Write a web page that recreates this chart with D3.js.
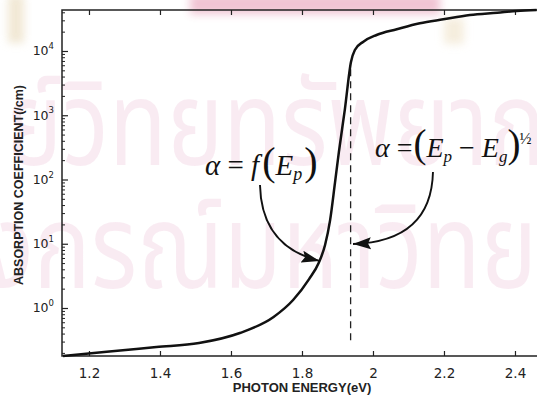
<!DOCTYPE html>
<html>
<head>
<meta charset="utf-8">
<script src="https://cdn.jsdelivr.net/npm/d3@7/dist/d3.min.js"></script>
<style>
  html, body { margin: 0; padding: 0; background: #fff; }
  svg { display: block; }
</style>
</head>
<body>
<svg id="chart" width="537" height="399"></svg>
<script>
// Absorption coefficient vs photon energy (log scale)
const energy = [1.127, 1.25, 1.39, 1.51, 1.625, 1.72, 1.775, 1.82, 1.847, 1.865,
                1.879, 1.893, 1.904, 1.921, 1.938, 1.949, 1.973, 2.01, 2.067, 2.132,
                2.198, 2.273, 2.35, 2.405, 2.461];
const absorption = [0.179, 0.209, 0.247, 0.285, 0.408, 0.724, 1.33, 2.82, 5.01, 9.55,
                    22.9, 89.1, 269, 1259, 6761, 10380, 13960, 17740, 21780, 26980,
                    31120, 36310, 39450, 41980, 43450];

const xTicks = [1.2, 1.4, 1.6, 1.8, 2.0, 2.2, 2.4];
const xTickLabels = ["1.2", "1.4", "1.6", "1.8", "2", "2.2", "2.4"];
const yDecades = [1, 10, 100, 1000, 10000];
const yExponents = ["0", "1", "2", "3", "4"];
const bandGap = 1.937;

// annotation arrows: start, two control points, tip (energy, alpha)
const arrowSubGap = [[1.6817, 82.1], [1.6845, 17.6], [1.7465, 7.45], [1.8493, 5.4]];
const arrowAboveGap = [[2.169, 131], [2.166, 25.2], [2.090, 10.6], [1.9437, 9.9]];
const labelSubGap = [1.5268, 117.5];
const labelAboveGap = [2.0056, 224];

const svg = d3.select("#chart");
const plotLeft = 62, plotTop = 10, plotBottom = 356;

const x = d3.scaleLinear().domain([1.124, 2.5]).range([plotLeft, plotLeft + (2.5 - 1.124) * 355]);
const y = d3.scaleLog().domain([0.179, 43450]).range([plotBottom, plotTop]);

const defs = svg.append("defs");

// faint watermark behind the plot
const wm = svg.append("g").attr("class", "watermark");
const blur = defs.append("filter").attr("id", "soft")
  .attr("x", "-50%").attr("y", "-50%").attr("width", "200%").attr("height", "200%");
blur.append("feGaussianBlur").attr("stdDeviation", 4);
wm.append("rect").attr("x", 190).attr("y", -6).attr("width", 250).attr("height", 20)
  .attr("fill", "#d04a78").attr("opacity", 0.32).attr("filter", "url(#soft)");
wm.append("rect").attr("x", 8).attr("y", -5).attr("width", 16).attr("height", 48)
  .attr("fill", "#e8d9b8").attr("opacity", 0.6).attr("filter", "url(#soft)");
wm.append("rect").attr("x", 444).attr("y", 18).attr("width", 20).attr("height", 26)
  .attr("fill", "#efe2c8").attr("opacity", 0.6).attr("filter", "url(#soft)");
const wmFont = "'Noto Sans Thai', 'Noto Sans', 'DejaVu Sans', sans-serif";
wm.append("text").attr("transform", "translate(-112,165) scale(1,1.25)")
  .attr("font-family", wmFont).attr("font-size", 95)
  .attr("fill", "#c8488a").attr("opacity", 0.1)
  .text("ศูนย์วิทยทรัพยากร");
wm.append("text").attr("transform", "translate(-224,288) scale(1,1.25)")
  .attr("font-family", wmFont).attr("font-size", 95)
  .attr("fill", "#c8488a").attr("opacity", 0.1)
  .text("จุฬาลงกรณ์มหาวิทยาลัย");

// axes
const tickFont = "'DejaVu Sans', sans-serif";

const xAxis = svg.append("g").attr("transform", `translate(0,${plotBottom})`)
  .call(d3.axisBottom(x).tickValues(xTicks).tickSize(-5).tickPadding(12)
    .tickFormat((d, i) => xTickLabels[i]));
xAxis.select(".domain").remove();
xAxis.selectAll("text").attr("font-family", tickFont).attr("font-size", 13.5).attr("fill", "#222");
xAxis.selectAll("line").attr("stroke", "#222").attr("stroke-width", 1.2);

const xTop = svg.append("g").attr("transform", `translate(0,${plotTop})`)
  .call(d3.axisTop(x).tickValues(xTicks).tickSize(-5).tickFormat(""));
xTop.select(".domain").remove();
xTop.selectAll("line").attr("stroke", "#222").attr("stroke-width", 1.2);

const minorY = [];
[0.1, 1, 10, 100, 1000, 10000].forEach(d => {
  for (let k = 2; k <= 9; k++) {
    const v = k * d;
    if (v >= y.domain()[0] && v <= y.domain()[1]) minorY.push(v);
  }
});
const yMinor = svg.append("g").attr("transform", `translate(${plotLeft},0)`)
  .call(d3.axisLeft(y).tickValues(minorY).tickSize(-3).tickFormat(""));
yMinor.select(".domain").remove();
yMinor.selectAll("line").attr("stroke", "#222").attr("stroke-width", 1);

const yAxis = svg.append("g").attr("transform", `translate(${plotLeft},0)`)
  .call(d3.axisLeft(y).tickValues(yDecades).tickSize(-6).tickPadding(8).tickFormat(() => ""));
yAxis.select(".domain").remove();
yAxis.selectAll("line").attr("stroke", "#222").attr("stroke-width", 1.2);
yAxis.selectAll("text")
  .attr("font-family", tickFont).attr("font-size", 12.5).attr("fill", "#222")
  .each(function(d, i) {
    const t = d3.select(this);
    t.text(null);
    t.append("tspan").text("10");
    t.append("tspan").attr("font-size", 8.5).attr("dy", "-0.75em").text(yExponents[i]);
  });

// frame
svg.append("path")
  .attr("d", `M${x.range()[1]},${plotTop}H${plotLeft}V${plotBottom}H${x.range()[1]}`)
  .attr("fill", "none").attr("stroke", "#222").attr("stroke-width", 1.5);

// axis titles
svg.append("text")
  .attr("x", 302).attr("y", 392).attr("text-anchor", "middle")
  .attr("font-family", "'Liberation Sans', Arial, sans-serif").attr("font-weight", "bold")
  .attr("font-size", 13).attr("fill", "#222")
  .text("PHOTON ENERGY(eV)");
svg.append("text")
  .attr("transform", "translate(23,185) rotate(-90)").attr("text-anchor", "middle")
  .attr("font-family", "'Liberation Sans', Arial, sans-serif").attr("font-weight", "bold")
  .attr("font-size", 12.5).attr("fill", "#222")
  .text("ABSORPTION COEFFICIENT(/cm)");

// band-gap marker
svg.append("line")
  .attr("x1", x(bandGap)).attr("x2", x(bandGap))
  .attr("y1", y(5200)).attr("y2", y(y.domain()[0]) - 12)
  .attr("stroke", "#222").attr("stroke-width", 1.3).attr("stroke-dasharray", "7,5");

// absorption curve
const data = energy.map((e, i) => ({ e, a: absorption[i] }));
svg.append("path")
  .datum(data)
  .attr("d", d3.line().x(d => x(d.e)).y(d => y(d.a)).curve(d3.curveMonotoneX))
  .attr("fill", "none").attr("stroke", "#111").attr("stroke-width", 2.5)
  .attr("stroke-linejoin", "round");

// arrows
defs.append("marker").attr("id", "head")
  .attr("markerUnits", "userSpaceOnUse").attr("markerWidth", 20).attr("markerHeight", 14)
  .attr("refX", 18).attr("refY", 7).attr("orient", "auto")
  .append("path").attr("d", "M0,1 L18,7 L0,13 L3,7 Z").attr("fill", "#111");

function arrowPath(p) {
  const q = p.map(([e, a]) => [x(e), y(a)]);
  return `M${q[0]}C${q[1]} ${q[2]} ${q[3]}`;
}
[arrowSubGap, arrowAboveGap].forEach(p => {
  svg.append("path").attr("d", arrowPath(p))
    .attr("fill", "none").attr("stroke", "#111").attr("stroke-width", 1.9)
    .attr("marker-end", "url(#head)");
});

// formula labels
const serif = "'Liberation Serif', 'Times New Roman', serif";
function formula(anchor, parts, size) {
  const t = svg.append("text")
    .attr("x", x(anchor[0])).attr("y", y(anchor[1]))
    .attr("font-family", serif).attr("font-size", size).attr("fill", "#111");
  parts.forEach(p => {
    const s = t.append("tspan").text(p.t);
    if (p.i) s.attr("font-style", "italic");
    if (p.s) s.attr("font-size", p.s);
    if (p.dy) s.attr("dy", p.dy);
    if (p.dx) s.attr("dx", p.dx);
  });
}
formula(labelSubGap, [
  { t: "α", i: true },
  { t: " = " },
  { t: "f", i: true },
  { t: "(", s: 40, dx: 3 },
  { t: "E", i: true },
  { t: "p", i: true, s: 18, dy: 5 },
  { t: ")", s: 40, dy: -5, dx: 2 }
], 29);
formula(labelAboveGap, [
  { t: "α", i: true },
  { t: " =" },
  { t: "(", s: 39, dx: 1 },
  { t: "E", i: true },
  { t: "p", i: true, s: 17, dy: 5 },
  { t: " − ", dy: -5 },
  { t: "E", i: true },
  { t: "g", i: true, s: 17, dy: 5 },
  { t: ")", s: 39, dy: -5 },
  { t: "½", s: 16, dy: -13, dx: -1 }
], 28);
</script>
</body>
</html>
